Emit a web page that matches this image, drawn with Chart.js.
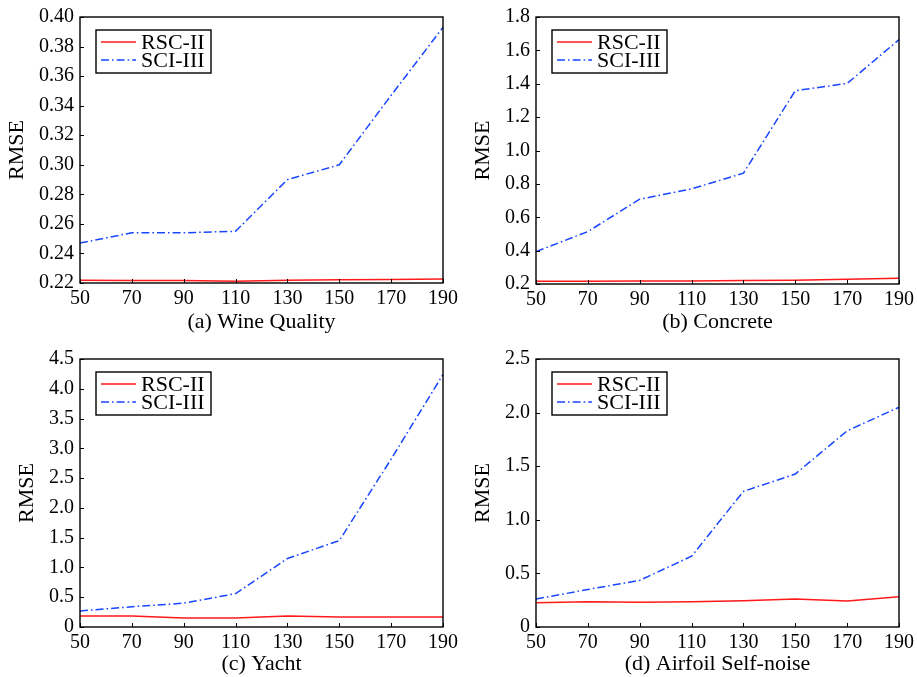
<!DOCTYPE html>
<html>
<head>
<meta charset="utf-8">
<script src="https://cdn.jsdelivr.net/npm/chart.js@4.4.1/dist/chart.umd.min.js"></script>
<style>
body { margin: 0; background: #fff; }
.panel { position: absolute; }
</style>
</head>
<body>
<div class="panel" style="left:0;top:0;width:458px;height:340px"><canvas id="wine"></canvas></div>
<div class="panel" style="left:458px;top:0;width:459px;height:340px"><canvas id="concrete"></canvas></div>
<div class="panel" style="left:0;top:340px;width:458px;height:337px"><canvas id="yacht"></canvas></div>
<div class="panel" style="left:458px;top:340px;width:459px;height:337px"><canvas id="airfoil"></canvas></div>
<script>
// x values shared by all panels
var budgets = ['50', '70', '90', '110', '130', '150', '170', '190'];
var seriesNames = ['RSC-II', 'SCI-III'];

var wineRSC = [0.2218, 0.2217, 0.2217, 0.2212, 0.2218, 0.2222, 0.2224, 0.2227];
var wineSCI = [0.247, 0.254, 0.254, 0.255, 0.290, 0.300, 0.347, 0.393];

var concreteRSC = [0.216, 0.217, 0.218, 0.218, 0.221, 0.223, 0.229, 0.234];
var concreteSCI = [0.394, 0.514, 0.708, 0.770, 0.864, 1.358, 1.402, 1.664];

var yachtRSC = [0.185, 0.185, 0.150, 0.150, 0.185, 0.170, 0.170, 0.170];
var yachtSCI = [0.27, 0.34, 0.40, 0.56, 1.15, 1.45, 2.82, 4.24];

var airfoilRSC = [0.227, 0.236, 0.230, 0.236, 0.246, 0.261, 0.243, 0.283];
var airfoilSCI = [0.261, 0.350, 0.435, 0.660, 1.265, 1.427, 1.830, 2.050];

Chart.defaults.font.family = '"Liberation Serif", serif';
Chart.defaults.color = '#000';

var red = 'rgb(255, 25, 25)';
var blue = 'rgb(25, 70, 255)';
var dashDot = [8, 3, 1.6, 3];

// box, inward ticks and the legend box inside the plot
var framePlugin = {
    id: 'frame',
    afterDraw: function (chart) {
        var ctx = chart.ctx;
        var a = chart.chartArea;
        var sx = chart.scales.x, sy = chart.scales.y;
        ctx.save();
        ctx.strokeStyle = '#000';
        ctx.lineWidth = 1;
        ctx.beginPath();
        sx.ticks.forEach(function (t, i) {
            var px = Math.round(sx.getPixelForTick(i)) + 0.5;
            ctx.moveTo(px, a.bottom);
            ctx.lineTo(px, a.bottom - 4);
        });
        sy.ticks.forEach(function (t, i) {
            var py = Math.round(sy.getPixelForTick(i)) + 0.5;
            ctx.moveTo(a.left, py);
            ctx.lineTo(a.left + 4, py);
        });
        ctx.stroke();
        ctx.lineWidth = 1.4;
        ctx.strokeRect(a.left, a.top, a.right - a.left, a.bottom - a.top);

        // legend
        var lx = a.left + 16, ly = a.top + 13;
        ctx.fillStyle = '#fff';
        ctx.fillRect(lx, ly, 115, 43);
        ctx.lineWidth = 1.4;
        ctx.strokeStyle = '#000';
        ctx.strokeRect(lx, ly, 115, 43);
        ctx.font = '22px "Liberation Serif"';
        ctx.textBaseline = 'middle';
        chart.data.datasets.forEach(function (ds, i) {
            var y = ly + 12 + i * 18;
            ctx.beginPath();
            ctx.setLineDash(ds.borderDash || []);
            ctx.strokeStyle = ds.borderColor;
            ctx.lineWidth = ds.borderWidth;
            ctx.moveTo(lx + 5, y);
            ctx.lineTo(lx + 40, y);
            ctx.stroke();
            ctx.setLineDash([]);
            ctx.fillStyle = '#000';
            ctx.fillText(ds.label, lx + 45, y + 1);
        });
        ctx.restore();
    }
};

function makePanel(id, caption, rsc, sci, y, box) {
    return new Chart(document.getElementById(id), {
        type: 'line',
        data: {
            labels: budgets,
            datasets: [{
                label: seriesNames[0],
                data: rsc,
                borderColor: red,
                borderWidth: 1.5,
                pointRadius: 0,
                tension: 0
            }, {
                label: seriesNames[1],
                data: sci,
                borderColor: blue,
                borderWidth: 1.5,
                borderDash: dashDot,
                pointRadius: 0,
                tension: 0
            }]
        },
        options: {
            responsive: true,
            maintainAspectRatio: false,
            animation: false,
            layout: { padding: { top: box.top, right: box.right, left: 0, bottom: 0 } },
            plugins: { legend: { display: false }, tooltip: { enabled: false } },
            scales: {
                x: {
                    grid: { display: false, drawTicks: false },
                    border: { display: false },
                    ticks: { autoSkip: false, maxRotation: 0, padding: 4, font: { size: 20 } },
                    title: { display: true, text: caption, font: { size: 22 }, padding: { top: 0, bottom: box.capPad } },
                    afterFit: function (s) { s.height = box.xh; s.paddingLeft = 0; s.paddingRight = 0; }
                },
                y: {
                    min: y.min,
                    max: y.max,
                    grid: { display: false, drawTicks: false },
                    border: { display: false },
                    ticks: {
                        stepSize: y.step,
                        padding: 6,
                        font: { size: 20 },
                        callback: function (v) { return v === 0 ? '0' : v.toFixed(y.dec); }
                    },
                    title: { display: true, text: 'RMSE', font: { size: 22 }, padding: { top: box.yPad, bottom: 0 } },
                    afterFit: function (s) { s.width = box.yw; s.paddingTop = 0; s.paddingBottom = 0; }
                }
            }
        },
        plugins: [framePlugin]
    });
}

makePanel('wine', '(a) Wine Quality', wineRSC, wineSCI,
    { min: 0.22, max: 0.40, step: 0.02, dec: 2 },
    { top: 17, right: 15, xh: 57, yw: 80, yPad: 4, capPad: 5 });
makePanel('concrete', '(b) Concrete', concreteRSC, concreteSCI,
    { min: 0.2, max: 1.8, step: 0.2, dec: 1 },
    { top: 17, right: 18, xh: 56, yw: 78, yPad: 12, capPad: 5 });
makePanel('yacht', '(c) Yacht', yachtRSC, yachtSCI,
    { min: 0, max: 4.5, step: 0.5, dec: 1 },
    { top: 19, right: 15, xh: 50, yw: 80, yPad: 14, capPad: 0 });
makePanel('airfoil', '(d) Airfoil Self-noise', airfoilRSC, airfoilSCI,
    { min: 0, max: 2.5, step: 0.5, dec: 1 },
    { top: 19, right: 18, xh: 50, yw: 78, yPad: 12, capPad: 0 });
</script>
</body>
</html>
